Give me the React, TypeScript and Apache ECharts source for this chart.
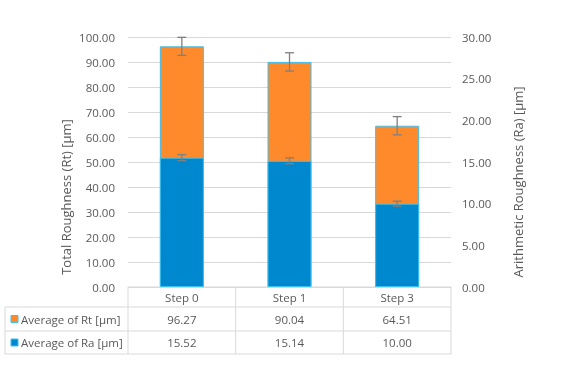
import React, { useEffect, useRef } from "react";
import * as echarts from "echarts";

const categories = ["Step 0", "Step 1", "Step 3"];
const rtValues = [96.27, 90.04, 64.51];
const raValues = [15.52, 15.14, 10.0];
const rtErrors = [3.6, 3.65, 3.65];
const raErrors = [0.36, 0.36, 0.3];
const seriesNames = ["Average of Rt [µm]", "Average of Ra [µm]"];
const leftTitle = "Total Roughness (Rt) [µm]";
const rightTitle = "Arithmetic Roughness (Ra) [µm]";

const W = 574;
const H = 369;
const GL = 128;
const GR = 451;
const GT = 37;
const GB = 287;
const FONT = "'Open Sans', sans-serif";
const TXT = "#595959";
const LINE = "#d9d9d9";
const ORANGE = "#FF8A2B";
const BLUE = "#0088CE";
const BORDER = "#3CC0F0";

export default function App() {
  const ref = useRef<HTMLDivElement>(null);
  useEffect(() => {
    if (!ref.current) return;
    const chart = echarts.init(ref.current, null, { renderer: "svg" });
    const colW = (GR - GL) / categories.length;
    const rowYs = [GB, 307, 331, 354];
    const graphics: any[] = [];
    const ln = (x1: number, y1: number, x2: number, y2: number) => ({
      type: "line",
      shape: { x1, y1, x2, y2 },
      style: { stroke: LINE, lineWidth: 1 },
      silent: true,
    });
    graphics.push(ln(GL, GB, GR, GB));
    for (let r = 1; r < rowYs.length; r++) graphics.push(ln(5, rowYs[r], GR, rowYs[r]));
    graphics.push(ln(5, rowYs[1], 5, rowYs[3]));
    for (let c = 0; c <= categories.length; c++) {
      graphics.push(ln(GL + c * colW, GB, GL + c * colW, rowYs[3]));
    }
    const rows = [rtValues, raValues];
    const colors = [ORANGE, BLUE];
    categories.forEach((cat, i) => {
      const cx = GL + colW * (i + 0.5);
      graphics.push({
        type: "text",
        x: cx,
        y: (rowYs[0] + rowYs[1]) / 2,
        style: { text: cat, fill: TXT, font: `11.5px ${FONT}`, align: "center", verticalAlign: "middle" },
      });
      rows.forEach((vals, r) => {
        graphics.push({
          type: "text",
          x: cx,
          y: (rowYs[r + 1] + rowYs[r + 2]) / 2,
          style: { text: vals[i].toFixed(2), fill: TXT, font: `11.5px ${FONT}`, align: "center", verticalAlign: "middle" },
        });
      });
    });
    seriesNames.forEach((nm, r) => {
      const cy = (rowYs[r + 1] + rowYs[r + 2]) / 2;
      graphics.push({
        type: "rect",
        shape: { x: 11, y: cy - 3.5, width: 7, height: 7 },
        style: { fill: colors[r], stroke: BORDER, lineWidth: 1 },
      });
      graphics.push({
        type: "text",
        x: 21,
        y: cy,
        style: { text: nm, fill: TXT, font: `11.5px ${FONT}`, align: "left", verticalAlign: "middle" },
      });
    });
    graphics.push({
      type: "text",
      x: 66,
      y: 197,
      rotation: Math.PI / 2,
      style: { text: leftTitle, fill: TXT, font: `13px ${FONT}`, align: "center", verticalAlign: "middle" },
    });
    graphics.push({
      type: "text",
      x: 518,
      y: 182,
      rotation: Math.PI / 2,
      style: { text: rightTitle, fill: TXT, font: `13px ${FONT}`, align: "center", verticalAlign: "middle" },
    });

    const errRender = (params: any, api: any) => {
      const i = api.value(0);
      const lo = api.coord([i, api.value(1)]);
      const hi = api.coord([i, api.value(2)]);
      const x = lo[0];
      const hw = 4.5;
      const st = { stroke: "#7F7F7F", lineWidth: 1.3 };
      return {
        type: "group",
        children: [
          { type: "line", shape: { x1: x, y1: lo[1], x2: x, y2: hi[1] }, style: st },
          { type: "line", shape: { x1: x - hw, y1: lo[1], x2: x + hw, y2: lo[1] }, style: st },
          { type: "line", shape: { x1: x - hw, y1: hi[1], x2: x + hw, y2: hi[1] }, style: st },
        ],
      };
    };

    chart.setOption({
      animation: false,
      textStyle: { fontFamily: FONT },
      grid: { left: GL, right: W - GR, top: GT, bottom: H - GB },
      xAxis: {
        type: "category",
        data: categories,
        axisLabel: { show: false },
        axisTick: { show: false },
        axisLine: { show: false },
      },
      yAxis: [
        {
          type: "value",
          min: 0,
          max: 100,
          interval: 10,
          axisLabel: { formatter: (v: number) => v.toFixed(2), color: TXT, fontSize: 11.5, margin: 13, fontFamily: FONT },
          splitLine: { lineStyle: { color: LINE, width: 1 } },
          axisLine: { show: false },
          axisTick: { show: false },
        },
        {
          type: "value",
          min: 0,
          max: 30,
          interval: 5,
          position: "right",
          axisLabel: { formatter: (v: number) => v.toFixed(2), color: TXT, fontSize: 11.5, margin: 11, fontFamily: FONT },
          splitLine: { show: false },
          axisLine: { show: false },
          axisTick: { show: false },
        },
      ],
      series: [
        {
          name: seriesNames[0],
          type: "bar",
          yAxisIndex: 0,
          data: rtValues,
          barWidth: 44,
          barGap: "-100%",
          itemStyle: { color: ORANGE, borderColor: BORDER, borderWidth: 1 },
        },
        {
          name: seriesNames[1],
          type: "bar",
          yAxisIndex: 1,
          data: raValues,
          barWidth: 44,
          barGap: "-100%",
          itemStyle: { color: BLUE, borderColor: BORDER, borderWidth: 1 },
        },
        {
          type: "custom",
          yAxisIndex: 0,
          z: 5,
          renderItem: errRender,
          data: rtValues.map((v, i) => [i, v - rtErrors[i], v + rtErrors[i]]),
        },
        {
          type: "custom",
          yAxisIndex: 1,
          z: 5,
          renderItem: errRender,
          data: raValues.map((v, i) => [i, v - raErrors[i], v + raErrors[i]]),
        },
      ],
      graphic: graphics,
    });
    return () => chart.dispose();
  }, []);
  return <div ref={ref} style={{ position: "fixed", left: 0, top: 0, width: W, height: H }} />;
}
